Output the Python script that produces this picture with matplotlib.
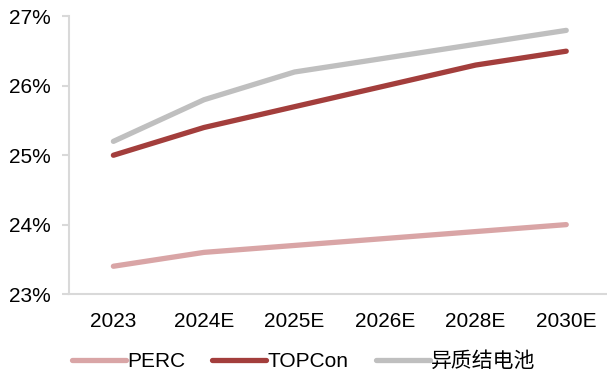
import matplotlib
matplotlib.use('Agg')
from matplotlib import pyplot as plt
from matplotlib.ticker import FuncFormatter

plt.rcParams['font.family'] = ['Liberation Sans', 'Noto Sans CJK SC', 'DejaVu Sans']

# Cell efficiency forecast (%)
years = ['2023', '2024E', '2025E', '2026E', '2028E', '2030E']
perc = [23.4, 23.6, 23.7, 23.8, 23.9, 24.0]
topcon = [25.0, 25.4, 25.7, 26.0, 26.3, 26.5]
hjt = [25.2, 25.8, 26.2, 26.4, 26.6, 26.8]

fig = plt.figure(figsize=(6.07, 3.8), dpi=100)
ax = fig.add_axes([0.1137, 0.2263, 0.8863, 0.7303])

x = range(len(years))
ax.plot(x, perc, color='#D9A5A6', lw=3.8, solid_capstyle='round', label='PERC')
ax.plot(x, topcon, color='#A33E3C', lw=3.8, solid_capstyle='round', label='TOPCon')
ax.plot(x, hjt, color='#BFBFBF', lw=3.8, solid_capstyle='round', label='异质结电池')

ax.set_xlim(-0.49, 5.45)
ax.set_ylim(23, 27)
ax.set_yticks([23, 24, 25, 26, 27])
ax.yaxis.set_major_formatter(FuncFormatter(lambda v, p: '%d%%' % v))
ax.set_xticks(list(x))
ax.set_xticklabels(years)

for side in ['top', 'right']:
    ax.spines[side].set_visible(False)
for side in ['left', 'bottom']:
    ax.spines[side].set_color('#D9D9D9')
    ax.spines[side].set_linewidth(1.5)

ax.tick_params(axis='y', length=5, width=1.5, color='#D9D9D9', pad=8, labelsize=15)
ax.tick_params(axis='x', length=0, pad=13, labelsize=15)

fig.legend(loc='center', bbox_to_anchor=(0.5, 1 - 361 / 380), ncol=3, frameon=False,
           fontsize=15, handlelength=2.6, handletextpad=0.05, columnspacing=1.3)

fig.savefig('out.png', dpi=100)
